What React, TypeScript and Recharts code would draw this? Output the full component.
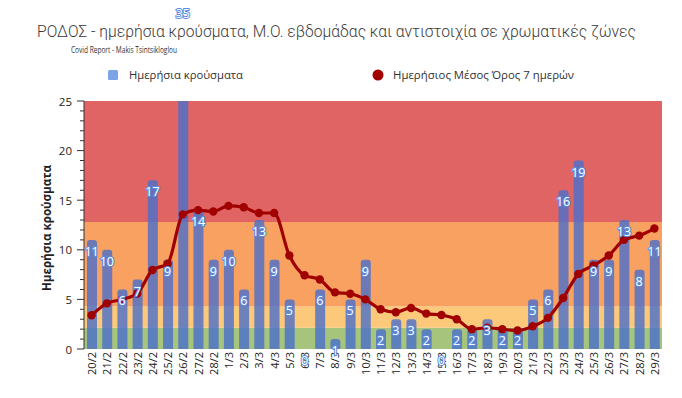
import React from 'react';
import { ComposedChart, Bar, Line, XAxis, YAxis, ReferenceArea, LabelList } from 'recharts';

const categories = [
  '20/2', '21/2', '22/2', '23/2', '24/2', '25/2', '26/2', '27/2', '28/2',
  '1/3', '2/3', '3/3', '4/3', '5/3', '6/3', '7/3', '8/3', '9/3', '10/3',
  '11/3', '12/3', '13/3', '14/3', '15/3', '16/3', '17/3', '18/3', '19/3', '20/3',
  '21/3', '22/3', '23/3', '24/3', '25/3', '26/3', '27/3', '28/3', '29/3',
];

const dailyCases = [
  11, 10, 6, 7, 17, 9, 35, 14, 9,
  10, 6, 13, 9, 5, 0, 6, 1, 5, 9,
  2, 3, 3, 2, 0, 2, 2, 3, 2, 2,
  5, 6, 16, 19, 9, 9, 13, 8, 11,
];

const weeklyAverage = [
  3.4, 4.6, 5.0, 5.6, 7.96, 8.6, 13.57, 14.0, 13.86,
  14.43, 14.29, 13.71, 13.71, 9.43, 7.43, 7.0, 5.71, 5.57, 5.0,
  4.0, 3.71, 4.14, 3.57, 3.43, 3.0, 2.0, 2.14, 2.0, 1.86,
  2.29, 3.14, 5.14, 7.57, 8.43, 9.43, 11.0, 11.43, 12.14,
];

const yTicks = [
  0, 1, 2, 3, 4, 5, 6, 7, 8, 9, 10, 11, 12, 13, 14, 15, 16, 17, 18, 19, 20, 21, 22, 23, 24, 25,
];

const zoneLimits = [0, 2.13, 4.28, 12.8, 25];

const titleText = 'ΡΟΔΟΣ - ημερήσια κρούσματα, Μ.Ο. εβδομάδας και αντιστοιχία σε χρωματικές ζώνες';
const subtitleText = 'Covid Report -  Makis Tsintsikloglou';
const barSeriesName = 'Ημερήσια κρούσματα';
const lineSeriesName = 'Ημερήσιος Μέσος Όρος 7 ημερών';
const yAxisTitle = 'Ημερήσια  κρούσματα';

const zoneColors = ['#A6C47C', '#FCC97A', '#F9A160', '#E06464'];
const BAR_COLOR = '#4A6FCC';
const LINE_COLOR = '#A00000';
const FONT = '"Open Sans", "Noto Sans", sans-serif';

const data = categories.map((c, i) => ({
  day: c,
  cases: dailyCases[i],
  avg: weeklyAverage[i],
}));

const YTick = (props: any) => {
  const { x, y, payload } = props;
  const v = payload.value;
  const major = v % 5 === 0;
  const axisX = x + 12;
  return (
    <g>
      <line x1={axisX - (major ? 7 : 4)} x2={axisX} y1={y} y2={y} stroke="#333" strokeWidth={1} />
      {major && (
        <text x={x} y={y} textAnchor="end" dominantBaseline="central" fontSize={11.5} fill="#222" fontFamily={FONT}>
          {v}
        </text>
      )}
    </g>
  );
};

const XTick = (props: any) => {
  const { x, y, payload } = props;
  return (
    <text
      x={x}
      y={y}
      transform={`rotate(-90 ${x} ${y})`}
      textAnchor="end"
      dominantBaseline="central"
      fontSize={11}
      fill="#222"
      fontFamily={FONT}
    >
      {payload.value}
    </text>
  );
};

const ValueLabel = (props: any) => {
  const { x, y, value } = props;
  return (
    <text
      x={x}
      y={y + 16}
      textAnchor="middle"
      fontSize={12.5}
      fill="#FFFFFF"
      stroke="#5B8BE0"
      strokeWidth={2}
      paintOrder="stroke"
      fontFamily={FONT}
    >
      {value}
    </text>
  );
};

export default function App() {
  return (
    <div style={{ position: 'absolute', left: 0, top: 0, width: 682, height: 398, background: '#fff' }}>
      <ComposedChart
        width={682}
        height={398}
        data={data}
        margin={{ top: 101, right: 20, bottom: 0, left: 0 }}
        barCategoryGap={0}
      >
        {zoneColors.map((col, i) => (
          <ReferenceArea
            key={i}
            y1={zoneLimits[i]}
            y2={zoneLimits[i + 1]}
            fill={col}
            fillOpacity={1}
            stroke="none"
            ifOverflow="hidden"
          />
        ))}
        <XAxis
          dataKey="day"
          interval={0}
          tickLine={false}
          axisLine={false}
          tickSize={0}
          tickMargin={3}
          height={49}
          tick={<XTick />}
        />
        <YAxis
          domain={[0, 25]}
          ticks={yTicks}
          interval={0}
          allowDataOverflow
          width={84}
          tickSize={0}
          tickMargin={12}
          tickLine={false}
          axisLine={{ stroke: '#333' }}
          tick={<YTick />}
        />
        <Bar
          dataKey="cases"
          fill={BAR_COLOR}
          fillOpacity={0.8}
          barSize={10}
          radius={[3, 3, 0, 0]}
          isAnimationActive={false}
        />
        <Line
          dataKey="avg"
          type="monotone"
          stroke={LINE_COLOR}
          strokeWidth={3.2}
          dot={{ r: 4.2, fill: LINE_COLOR, stroke: LINE_COLOR, strokeWidth: 0 }}
          activeDot={false}
          isAnimationActive={false}
        />
        <Line
          dataKey="cases"
          stroke="none"
          dot={false}
          activeDot={false}
          legendType="none"
          isAnimationActive={false}
        >
          <LabelList dataKey="cases" content={<ValueLabel />} />
        </Line>
      </ComposedChart>
      <svg width={682} height={398} style={{ position: 'absolute', left: 0, top: 0, pointerEvents: 'none' }}>
        <text
          x={37}
          y={37}
          fontSize={16.5}
          fontWeight={300}
          fill="#3A3A3A"
          fontFamily="Roboto, sans-serif"
          textLength={599}
          lengthAdjust="spacingAndGlyphs"
        >
          {titleText}
        </text>
        <text x={71} y={53} fontSize={8.5} fill="#333" fontFamily={FONT} textLength={106} lengthAdjust="spacingAndGlyphs">
          {subtitleText}
        </text>
        <rect x={108} y={70} width={10} height={10} rx={1.5} fill="#7BA3E5" />
        <text x={129} y={79} fontSize={11.5} fill="#333" fontFamily={FONT} textLength={114} lengthAdjust="spacingAndGlyphs">
          {barSeriesName}
        </text>
        <circle cx={378} cy={75} r={5.5} fill={LINE_COLOR} />
        <text x={393} y={79} fontSize={11.5} fill="#333" fontFamily={FONT} textLength={181} lengthAdjust="spacingAndGlyphs">
          {lineSeriesName}
        </text>
        <text
          x={51}
          y={228}
          transform="rotate(-90 51 228)"
          textAnchor="middle"
          fontSize={12.5}
          fontWeight={700}
          fill="#222"
          fontFamily={FONT}
          textLength={126}
          lengthAdjust="spacingAndGlyphs"
        >
          {yAxisTitle}
        </text>
      </svg>
    </div>
  );
}
